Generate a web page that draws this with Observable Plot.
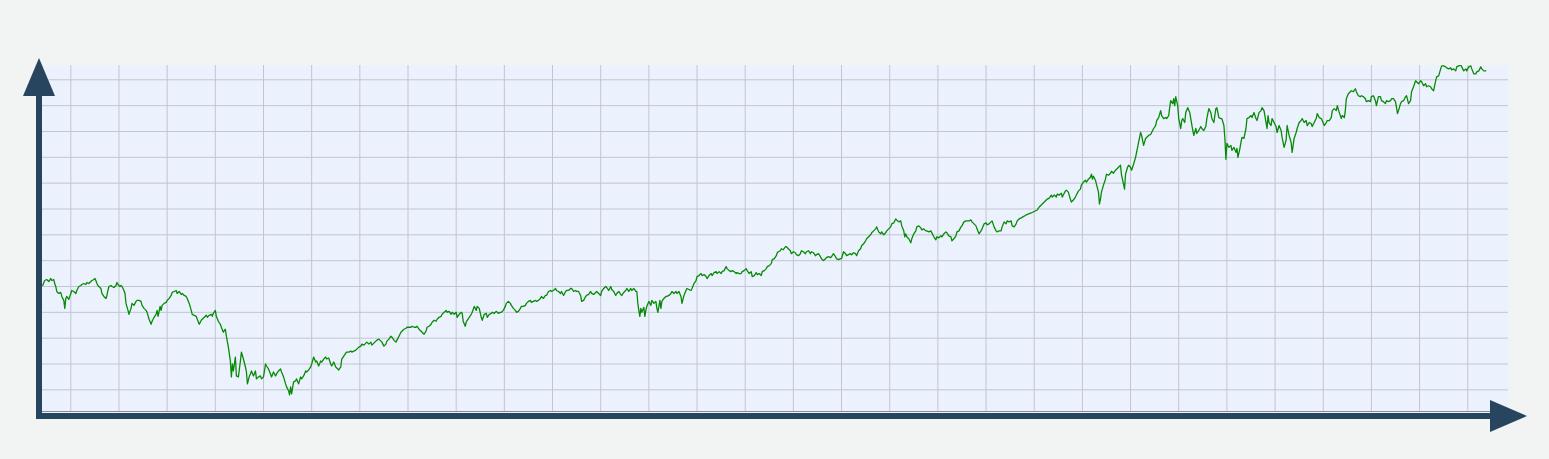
<!DOCTYPE html>
<html>
<head>
<meta charset="utf-8">
<script src="https://cdn.jsdelivr.net/npm/d3@7"></script>
<script src="https://cdn.jsdelivr.net/npm/@observablehq/plot@0.6"></script>
<style>
  html, body { margin: 0; padding: 0; background: #f2f4f3; overflow: hidden; }
  #chart svg { display: block; }
</style>
</head>
<body>
<div id="chart"></div>
<script>
// ---- data (arbitrary units) ----
const days = [
-28,-26,-24,-22,-20,-19,-17,-16,-15,-14,
-12,-10,-9,-7,-6,-5,-4,-2,0,1,
3,5,6,8,10,11,13,15,16,18,
20,21,23,24,25,26,27,28,30,31,
33,35,36,37,38,40,41,43,45,46,
47,49,50,51,53,54,55,57,58,60,
61,63,65,66,68,70,71,73,75,76,
78,80,81,83,85,86,87,89,90,91,
93,95,96,98,100,101,103,105,106,108,
110,111,113,115,116,118,120,121,123,125,
126,128,130,131,133,135,136,138,140,141,
142,144,145,147,149,150,152,154,155,157,
159,160,161,162,164,165,167,169,170,172,
174,175,176,178,179,180,182,184,185,187,
189,190,192,193,194,195,197,199,200,202,
204,205,207,209,210,212,
214,215,217,218,219,220,222,224,225,227,
229,230,232,234,235,237,239,240,242,244,
245,247,249,250,252,254,255,257,259,260,
262,264,265,267,269,270,272,274,275,277,
279,280,282,284,285,287,289,290,292,294,
295,297,299,300,302,304,305,307,309,310,
312,314,315,317,319,320,322,324,325,327,
329,330,332,334,335,337,339,340,342,344,
345,347,349,350,352,354,355,357,359,360,
362,364,365,367,369,370,372,374,375,377,
379,380,382,384,385,387,389,390,391,393,
394,395,397,399,400,402,404,405,407,409,
410,412,414,415,417,419,420,422,423,424,
426,428,429,431,433,434,436,438,439,441,
443,444,446,448,449,451,453,
454,456,458,459,461,463,464,466,468,469,
471,473,474,476,478,479,481,483,484,486,
488,489,491,493,494,496,498,499,501,503,
504,506,508,509,511,513,514,516,518,519,
521,523,524,526,528,529,531,533,534,536,
538,539,541,543,544,546,548,549,551,553,
554,556,558,559,561,563,564,565,566,567,
568,569,571,572,573,574,576,578,579,581,
583,584,585,587,588,589,591,593,594,596,
598,599,601,603,604,606,608,609,611,613,
614,616,618,619,621,623,624,626,628,629,
631,633,634,636,638,639,641,643,644,646,
648,649,651,653,654,656,658,659,661,663,
664,666,668,669,671,673,674,676,678,679,
681,683,684,686,688,689,691,693,694,696,
698,
699,701,703,704,705,707,708,710,712,713,
715,717,718,720,722,723,725,727,728,730,
732,733,735,737,738,740,742,743,745,747,
748,750,752,753,755,757,758,760,762,763,
765,767,768,770,772,773,775,777,778,780,
782,783,785,787,788,790,792,793,795,797,
798,800,802,803,805,807,808,810,812,813,
815,817,818,820,822,823,825,827,828,830,
831,832,833,835,837,838,840,842,843,845,
847,848,850,852,853,855,857,858,860,862,
863,865,867,868,870,872,873,875,877,878,
880,882,883,885,887,888,890,892,893,895,
897,898,900,902,903,905,907,908,910,912,
913,915,917,918,920,922,923,925,927,928,
930,932,933,935,937,938,940,942,943,945,
947,952,957,961,
963,965,967,968,970,972,973,975,977,978,
980,982,983,985,987,988,989,991,992,994,
996,997,999,1001,1002,1004,1006,1007,1009,1011,
1012,1014,1016,1017,1018,1019,1021,1022,1024,1025,
1026,1027,1029,1031,1032,1034,1036,1037,1039,1041,
1042,1044,1046,1047,1049,1050,1051,1053,1054,1056,
1057,1059,1061,1062,1064,1066,1067,1069,1071,1072,
1074,1076,1077,1079,1081,1082,1084,1086,1087,1089,
1091,1092,1094,1095,1096,1098,1099,1100,1101,1103,
1104,1106,1107,1108,1110,1111,1113,1115,1116,1118,
1119,1121,1122,1124,1126,1127,1129,1131,1132,1134,
1136,1137,1139,1141,1142,1144,1146,1147,1149,1150,
1151,1152,1154,1156,1157,1159,1161,1162,1163,1165,
1166,1167,1169,1171,1172,1174,1176,1177,1179,1181,
1182,1184,1186,
1187,1189,1191,1192,1193,1194,1196,1197,1199,1201,
1202,1204,1206,1207,1209,1211,1212,1214,1216,1217,
1219,1221,1222,1224,1226,1227,1229,1231,1232,1234,
1236,1237,1239,1241,1242,1244,1246,1247,1249,1251,
1252,1254,1256,1257,1259,1261,1262,1264,1266,1267,
1269,1270,1271,1273,1275,1276,1278,1280,1281,1283,
1285,1286,1288,1290,1291,1293,1295,1296,1298,1300,
1301,1303,1305,1306,1308,1310,1311,1313,1315,1316,
1318,1320,1321,1322,1323,1325,1326,1328,1330,1331,
1333,1335,1336,1338,1340,1341,1343,1345,1346,1348,
1350,1351,1353,1355,1356,1358,1360,1361,1363,1365,
1366,1368,1370,1371,1373,1375,1376,1378,1380,1381,
1383,1385,1386,1388,1390,1391,1393,1395,1396,1398,
1400,1401,1403,1405,1406,1408,1410
];

const levels = [
105,110,111,109,112,110,111,107,104,99,
97,98,94,90,82,92,94,91,97,100,
99,97,100,104,105,106,107,106,108,107,
109,110,111,112,110,107,105,104,102,97,
94,92,95,100,104,105,104,103,105,108,
106,104,105,104,100,97,87,80,76,82,
87,85,89,90,90,89,85,82,80,78,
71,66,69,73,76,80,74,84,80,85,
87,88,90,92,95,98,99,100,97,99,
96,97,95,94,92,87,80,76,75,74,
71,66,70,71,73,75,73,75,76,74,
77,80,74,69,66,63,58,61,54,43,
29,13,26,19,33,14,13,29,38,31,
23,18,6,14,16,19,14,19,11,13,
14,11,13,19,26,24,21,16,13,18,
14,16,19,21,18,13,
6,3,-1,-5,3,-4,8,9,11,6,
13,11,14,19,18,20,23,26,33,28,
29,24,29,28,31,33,31,32,26,24,
28,23,22,20,23,31,34,37,38,38,
39,38,39,40,41,43,44,46,45,47,
48,46,48,45,47,49,50,51,49,48,
44,46,49,51,54,53,50,48,50,54,
58,59,61,62,63,63,63,64,63,63,
64,61,59,58,56,59,63,64,66,68,
70,69,71,73,74,76,78,80,78,79,
76,78,76,78,73,76,78,77,69,64,
68,70,73,76,78,84,80,84,82,73,
70,76,77,73,76,77,78,77,78,79,
77,78,78,80,84,87,89,87,85,82,
80,78,79,82,84,84,85,
87,89,90,88,89,90,89,90,92,94,
92,95,95,99,100,99,100,102,100,99,
97,99,95,99,100,100,102,102,99,100,
99,99,95,89,90,94,95,96,99,97,
96,98,99,97,95,99,102,104,103,100,
104,101,99,95,97,99,96,95,98,100,
102,99,102,100,102,99,99,87,80,74,
82,78,83,74,80,84,89,85,90,87,
89,82,78,90,82,89,92,94,94,95,
97,99,97,99,97,99,94,87,95,100,
102,101,100,102,107,110,114,115,117,115,
116,114,112,115,117,115,118,119,117,119,
117,119,120,124,122,120,119,120,119,117,
118,117,117,119,120,122,120,117,119,114,
115,118,116,117,115,119,120,122,124,125,
127,
131,132,135,138,139,140,142,141,144,144,
142,140,137,139,138,136,135,137,140,139,
137,139,140,137,139,138,135,136,137,134,
132,130,132,133,134,133,134,137,134,132,
131,132,132,139,137,135,136,137,136,138,
137,135,140,142,145,147,150,152,154,156,
158,160,162,164,159,157,159,156,158,160,
162,164,167,168,172,171,169,170,165,160,
154,157,154,152,148,152,157,160,164,165,
163,161,162,160,160,159,160,158,154,151,
154,153,155,154,157,159,158,155,154,150,
152,155,159,160,164,165,169,170,170,170,
171,169,167,165,162,157,160,162,167,168,
166,167,169,170,164,160,159,160,160,164,
169,167,170,169,170,165,164,167,170,172,
173,176,178,180,
181,184,186,187,189,191,192,193,196,194,
196,194,197,196,198,194,196,200,201,199,
192,189,191,194,196,200,202,206,209,211,
209,212,214,217,212,215,211,207,199,187,
192,199,206,212,217,216,218,220,218,221,
222,224,226,216,207,202,217,224,226,224,
221,227,234,239,249,259,256,246,253,254,
256,257,259,263,266,271,274,281,276,273,
274,273,276,284,291,288,293,286,295,286,
273,263,271,273,269,279,284,279,273,261,
256,263,258,261,265,263,261,265,273,283,
279,273,269,283,284,274,273,273,266,253,
232,248,244,246,241,244,239,243,234,243,
249,254,253,263,273,274,276,274,279,273,
271,279,281,
284,281,269,263,276,269,266,273,269,265,
259,266,261,254,244,251,266,256,249,239,
253,259,263,269,271,273,269,271,266,269,
268,265,269,273,278,274,273,271,266,269,
271,271,274,281,283,281,286,279,273,276,
274,281,293,298,300,301,300,303,300,296,
295,296,295,293,290,291,290,295,296,291,
286,295,295,291,290,288,291,290,291,293,
293,290,284,278,281,288,290,291,295,296,
288,291,300,305,311,310,308,311,310,306,
308,305,306,305,303,301,311,315,316,323,
326,326,325,324,323,324,322,323,321,325,
326,327,325,321,323,321,325,326,323,318,
318,320,321,325,323,321,321
];

// grid tick values (no labels are shown on the original)
const xTicks = d3.range(0, 1393, 48);
const yTicks = d3.range(0, 313, 26);
const xDomain = [-29.2, 1432.6];
const yDomain = [-21.8, 326.4];

// ---- layout ----
const W = 1549, H = 459;
const mL = 41, mR = 41, mT = 65, mB = 48;

const n = Math.min(days.length, levels.length);
const data = d3.range(n).map(i => ({day: days[i], level: levels[i]}));

const chart = Plot.plot({
  width: W,
  height: H,
  marginLeft: mL,
  marginRight: mR,
  marginTop: mT,
  marginBottom: mB,
  style: {background: "#f2f4f3", overflow: "visible"},
  x: {domain: xDomain, axis: null},
  y: {domain: yDomain, axis: null},
  marks: [
    Plot.frame({fill: "#ecf2fd", stroke: null}),
    Plot.gridX(xTicks, {stroke: "#c0c5d0", strokeOpacity: 1, strokeWidth: 1}),
    Plot.gridY(yTicks, {stroke: "#c0c5d0", strokeOpacity: 1, strokeWidth: 1}),
    Plot.frame({anchor: "bottom", stroke: "#878b96", strokeWidth: 1}),
    Plot.line(data, {x: "day", y: "level", stroke: "#078a07", strokeWidth: 1.3, clip: true})
  ]
});

// decorative axis arrows, positioned from the margins
const svg = d3.select(chart);
const axisColor = "#27455f";
const axX = mL - 2;              // vertical axis centre
const axY = H - mB + 5;          // horizontal axis centre
const g = svg.append("g");
g.append("line")
  .attr("x1", axX).attr("x2", axX)
  .attr("y1", mT + 28).attr("y2", axY + 3)
  .attr("stroke", axisColor).attr("stroke-width", 6);
g.append("line")
  .attr("x1", axX - 3).attr("x2", W - mR - 16)
  .attr("y1", axY).attr("y2", axY)
  .attr("stroke", axisColor).attr("stroke-width", 6);
g.append("path")
  .attr("d", `M${axX},${mT - 7} L${axX - 16},${mT + 31} L${axX + 16},${mT + 31} Z`)
  .attr("fill", axisColor);
g.append("path")
  .attr("d", `M${W - mR + 19},${axY} L${W - mR - 18},${axY - 16} L${W - mR - 18},${axY + 16} Z`)
  .attr("fill", axisColor);

document.getElementById("chart").append(chart);
</script>
</body>
</html>
